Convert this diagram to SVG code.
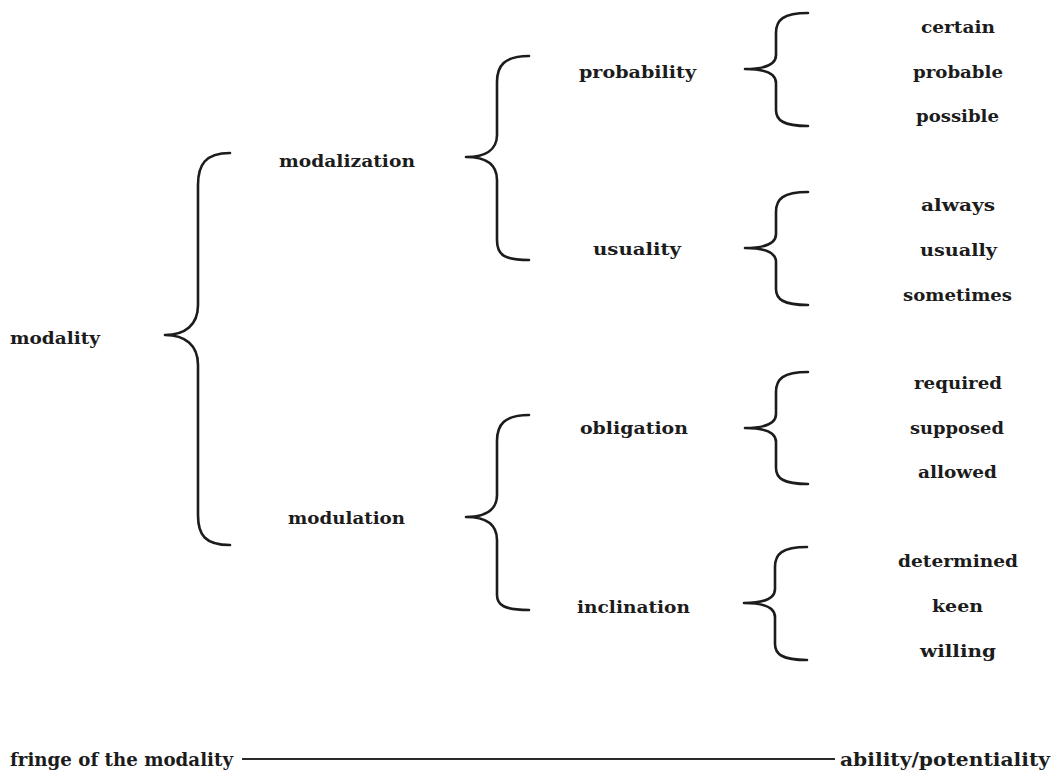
<svg xmlns="http://www.w3.org/2000/svg" width="1057" height="771" viewBox="0 0 1057 771">
<style>
.b{fill:none;stroke:#1c1c1c;stroke-width:2.6;stroke-linecap:round;stroke-linejoin:round}
.t{font-family:"DejaVu Serif","Liberation Serif",serif;font-weight:bold;font-size:17px;fill:#1c1c1c}
.f{font-family:"DejaVu Serif","Liberation Serif",serif;font-weight:bold;font-size:19px;fill:#1c1c1c}
.ln{stroke:#2a2a2a;stroke-width:2}
</style>
<rect width="1057" height="771" fill="#ffffff"/>
<g id="connectors">
<path class="b" d="M230,153 C205,153 198,165 198,185 L198,305 C198,325 185,335 165,335 C185,335 198,345 198,365 L198,515 C198,535 205,545 230,545"/>
<path class="b" d="M529,56 C504,56 497,66 497,82 L497,135 C497,150 485,157 466,157 C485,157 497,164 497,180 L497,240 C497,255 504,260 529,260"/>
<path class="b" d="M529,415 C504,415 497,425 497,441 L497,495 C497,510 485,517 466,517 C485,517 497,524 497,540 L497,595 C497,605 504,610 529,610"/>
<path class="b" d="M808,13 C783,13 776,20 776,33 L776,55 C776,64 765,69 745,69 C765,69 776,74 776,83 L776,110 C776,120 783,126 808,126"/>
<path class="b" d="M808,192 C783,192 776,199 776,212 L776,234 C776,243 765,248 745,248 C765,248 776,253 776,262 L776,289 C776,299 783,305 808,305"/>
<path class="b" d="M808,372 C783,372 776,379 776,392 L776,414 C776,423 765,428 745,428 C765,428 776,433 776,442 L776,468 C776,478 783,484 808,484"/>
<path class="b" d="M807,547 C782,547 775,554 775,567 L775,589 C775,598 764,603 744,603 C764,603 775,608 775,617 L775,644 C775,654 782,660 807,660"/>
<line class="ln" x1="242" y1="759" x2="835" y2="759"/>
</g>
<g id="n-modality"><text class="t" x="10" y="344" textLength="90" lengthAdjust="spacingAndGlyphs">modality</text></g>
<g id="n-modalization"><text class="t" x="279" y="167" textLength="136" lengthAdjust="spacingAndGlyphs">modalization</text></g>
<g id="n-modulation"><text class="t" x="288" y="524" textLength="117" lengthAdjust="spacingAndGlyphs">modulation</text></g>
<g id="n-probability"><text class="t" x="579" y="78" textLength="117" lengthAdjust="spacingAndGlyphs">probability</text></g>
<g id="n-usuality"><text class="t" x="593" y="255" textLength="88" lengthAdjust="spacingAndGlyphs">usuality</text></g>
<g id="n-obligation"><text class="t" x="580" y="434" textLength="108" lengthAdjust="spacingAndGlyphs">obligation</text></g>
<g id="n-inclination"><text class="t" x="577" y="613" textLength="113" lengthAdjust="spacingAndGlyphs">inclination</text></g>
<g id="n-certain"><text class="t" x="921" y="33" textLength="74" lengthAdjust="spacingAndGlyphs">certain</text></g>
<g id="n-probable"><text class="t" x="913" y="78" textLength="90" lengthAdjust="spacingAndGlyphs">probable</text></g>
<g id="n-possible"><text class="t" x="916" y="122" textLength="83" lengthAdjust="spacingAndGlyphs">possible</text></g>
<g id="n-always"><text class="t" x="921" y="211" textLength="74" lengthAdjust="spacingAndGlyphs">always</text></g>
<g id="n-usually"><text class="t" x="920" y="256" textLength="77" lengthAdjust="spacingAndGlyphs">usually</text></g>
<g id="n-sometimes"><text class="t" x="903" y="301" textLength="109" lengthAdjust="spacingAndGlyphs">sometimes</text></g>
<g id="n-required"><text class="t" x="914" y="389" textLength="88" lengthAdjust="spacingAndGlyphs">required</text></g>
<g id="n-supposed"><text class="t" x="910" y="434" textLength="94" lengthAdjust="spacingAndGlyphs">supposed</text></g>
<g id="n-allowed"><text class="t" x="918" y="478" textLength="79" lengthAdjust="spacingAndGlyphs">allowed</text></g>
<g id="n-determined"><text class="t" x="898" y="567" textLength="120" lengthAdjust="spacingAndGlyphs">determined</text></g>
<g id="n-keen"><text class="t" x="932" y="612" textLength="51" lengthAdjust="spacingAndGlyphs">keen</text></g>
<g id="n-willing"><text class="t" x="920" y="657" textLength="76" lengthAdjust="spacingAndGlyphs">willing</text></g>
<g id="n-fringe"><text class="f" x="10" y="766" textLength="223" lengthAdjust="spacingAndGlyphs">fringe of the modality</text></g>
<g id="n-ability"><text class="f" x="840" y="766" textLength="210" lengthAdjust="spacingAndGlyphs">ability/potentiality</text></g>
</svg>
